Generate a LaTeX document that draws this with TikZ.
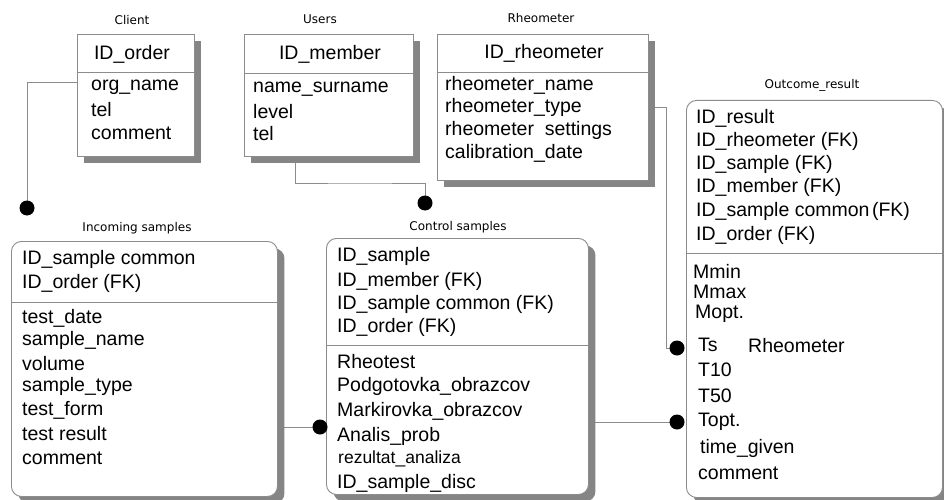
\documentclass[tikz,border=0pt]{standalone}
\usepackage{fontspec}
\setmainfont{Liberation Sans}
\newfontfamily\captionfamily{DejaVu Sans}
\usetikzlibrary{shadows,backgrounds}
\definecolor{linegray}{HTML}{8C8C8C}
\definecolor{shadegray}{HTML}{858585}
\newcommand\fldfont{\fontsize{19.5}{23}\selectfont}
\newcommand\capfont{\captionfamily\fontsize{12}{14}\selectfont}
\begin{document}
\begin{tikzpicture}[x=1pt,y=-1pt,
  tbl/.style={draw=linegray, fill=white, line width=0.9pt, inner sep=0pt,
    anchor=north west,
    drop shadow={shadow xshift=7pt, shadow yshift=-7pt, fill=shadegray, opacity=1}},
  rtbl/.style={tbl, rounded corners=10pt},
  divider/.style={draw=linegray, line width=0.9pt},
  conn/.style={draw=linegray, line width=0.9pt},
  fld/.style={anchor=west, inner sep=0pt, font=\fldfont},
  hdr/.style={inner sep=0pt, font=\fldfont},
  ttl/.style={inner sep=0pt, font=\capfont},
  dotm/.style={circle, fill=black, minimum size=15pt, inner sep=0pt}]
\useasboundingbox (0,0) rectangle (944,500);
\begin{scope}[on background layer]
  \fill[white] (0,0) rectangle (944,500);
\end{scope}

% ---- entity boxes ----
\node[tbl, minimum width=117pt, minimum height=122pt] (client) at (77,34) {};
\node[tbl, minimum width=169pt, minimum height=122pt] (users) at (244,34) {};
\node[tbl, minimum width=211pt, minimum height=146pt] (rheo) at (437,34) {};
\node[rtbl, minimum width=256pt, minimum height=397pt] (outcome) at (686,100) {};
\node[rtbl, minimum width=266pt, minimum height=255pt] (incoming) at (11,241) {};
\node[rtbl, minimum width=262pt, minimum height=256pt] (control) at (326,238) {};

% key / attribute dividers
\draw[divider] (client.west |- 0,72) -- (client.east |- 0,72);
\draw[divider] (users.west |- 0,73) -- (users.east |- 0,73);
\draw[divider] (rheo.west |- 0,72) -- (rheo.east |- 0,72);
\draw[divider] (outcome.west |- 0,253) -- (outcome.east |- 0,253);
\draw[divider] (incoming.west |- 0,302) -- (incoming.east |- 0,302);
\draw[divider] (control.west |- 0,345) -- (control.east |- 0,345);

% ---- entity names ----
\node[ttl] (tclient) at (132,20) {Client};
\node[ttl] (tusers) at (320,19) {Users};
\node[ttl] (trheo) at (541,18) {Rheometer};
\node[ttl] (toutcome) at (812,85) {Outcome\_result};
\node[ttl] (tincoming) at (137,228) {Incoming samples};
\node[ttl] (tcontrol) at (458,227) {Control samples};

% ---- keys ----
\node[hdr] (clh) at (132,54) {ID\_order};
\node[hdr] (ush) at (330,54) {ID\_member};
\node[hdr] (rhh) at (544,53) {ID\_rheometer};

% ---- attributes ----
\foreach \t/\y [count=\i] in {org\_name/87, tel/110, comment/133}
  \node[fld] (cl\i) at (91,\y) {\t};
\foreach \t/\y [count=\i] in {name\_surname/89, level/112, tel/134}
  \node[fld] (us\i) at (253,\y) {\t};
\foreach \t/\y [count=\i] in {rheometer\_name/85, rheometer\_type/107,
    rheometer\hspace{0.55em}settings/130, calibration\_date/153}
  \node[fld] (rh\i) at (445,\y) {\t};
\foreach \t/\y [count=\i] in {ID\_result/118, ID\_rheometer (FK)/141,
    ID\_sample (FK)/164, ID\_member (FK)/187, ID\_sample common\hspace{-0.15em} (FK)/211,
    ID\_order (FK)/235}
  \node[fld] (ok\i) at (696,\y) {\t};
\foreach \t/\x/\y [count=\i] in {Mmin/693/271, Mmax/693/292, Mopt./695/314,
    Ts/698/345, T10/698/370, T50/698/396, Topt./698/422,
    time\_given/700/448, comment/698/473}
  \node[fld] (oa\i) at (\x,\y) {\t};
\node[fld] (oarh) at (748,346) {Rheometer};
\foreach \t/\y [count=\i] in {ID\_sample common/259, ID\_order (FK)/283}
  \node[fld] (ik\i) at (22,\y) {\t};
\foreach \t/\y [count=\i] in {test\_date/318, sample\_name/340, volume/364,
    sample\_type/386, test\_form/410, test result/434, comment/458}
  \node[fld] (ia\i) at (22,\y) {\t};
\foreach \t/\y [count=\i] in {ID\_sample/256, ID\_member (FK)/281,
    ID\_sample common (FK)/304, ID\_order (FK)/327}
  \node[fld] (ck\i) at (337,\y) {\t};
\foreach \t/\y [count=\i] in {Rheotest/362, Podgotovka\_obrazcov/386,
    Markirovka\_obrazcov/411, Analis\_prob/436}
  \node[fld] (ca\i) at (337,\y) {\t};
\node[fld, font=\fontsize{17.5}{21}\selectfont] (ca5) at (338,459) {rezultat\_analiza};
\node[fld] (ca6) at (337,483) {ID\_sample\_disc};

% ---- relationship ends ----
\node[dotm] (dclient) at (27,208) {};
\node[dotm] (dusers) at (425,203) {};
\node[dotm] (drheo) at (677,348) {};
\node[dotm] (dincoming) at (320,427) {};
\node[dotm] (dcontrol) at (677,422) {};

% ---- relationships (kept under the boxes and their shadows) ----
\begin{scope}[on background layer]
  \draw[conn] (client.west |- 0,82) -| (dclient.center);
  \draw[conn] (users.south -| 295,0) |- (360,183) -| (dusers.center);
  \draw[conn] (rheo.east |- 0,107) -| (666,200) |- (drheo.center);
  \draw[conn] (incoming.east |- dincoming) -- (dincoming.center);
  \draw[conn] (control.east |- dcontrol) -- (dcontrol.center);
\end{scope}
\end{tikzpicture}
\end{document}
